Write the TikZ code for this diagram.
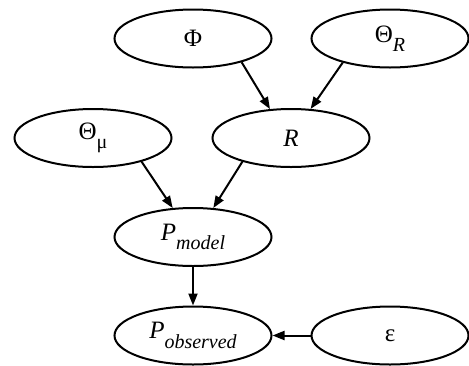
\documentclass[tikz,border=0pt]{standalone}
\usepackage{fontspec}
\setmainfont{Liberation Serif}
\usetikzlibrary{shapes.geometric,arrows.meta}
\newcommand{\subtxt}[1]{\raisebox{-0.38em}{\fontsize{20}{20}\selectfont\itshape #1}}
\begin{document}
\begin{tikzpicture}[x=1pt,y=-1pt,
  nd/.style={draw, line width=2pt, ellipse, minimum width=157pt, minimum height=58pt, inner sep=0pt, font=\fontsize{25}{25}\selectfont},
  edge/.style={line width=2pt, -{Triangle[length=12pt,width=9pt]}}]
\useasboundingbox (0,0) rectangle (469,365);
\node[nd] (phi) at (193,38.5) {Φ};
\node[nd] (thR) at (390,38.5) {Θ\subtxt{R}};
\node[nd] (thmu) at (93,138) {Θ\subtxt{\upshape μ}};
\node[nd] (R) at (291,138) {\itshape R};
\node[nd] (pm) at (193,237) {\textit{P}\subtxt{model}};
\node[nd] (po) at (193,335.5) {\textit{P}\subtxt{observed}};
\node[nd] (eps) at (390,335.5) {ε};
\draw[edge] (phi.-26) -- (R.126);
\draw[edge] (thR.207) -- (R.56);
\draw[edge] (thmu.-26) -- (pm.125);
\draw[edge] (R.206) -- (pm.55);
\draw[edge] (pm.south) -- (po.north);
\draw[edge] (eps.west) -- (po.east);
\end{tikzpicture}
\end{document}
